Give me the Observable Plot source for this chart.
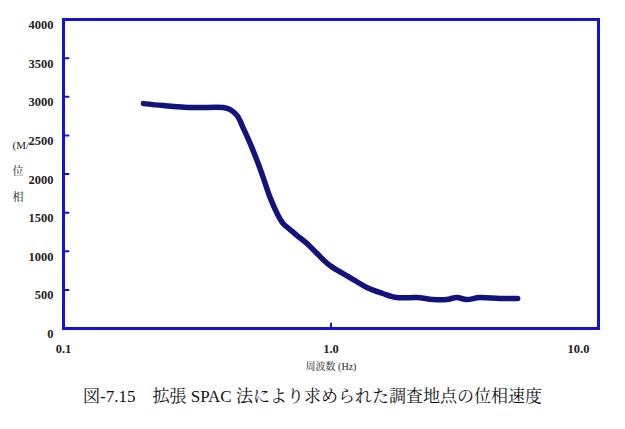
<!DOCTYPE html>
<html>
<head>
<meta charset="utf-8">
<script src="https://cdn.jsdelivr.net/npm/d3@7"></script>
<script src="https://cdn.jsdelivr.net/npm/@observablehq/plot@0.6"></script>
<style>
  body { margin: 0; background: #fff; width: 625px; height: 429px; overflow: hidden; }
  #caption { font-family: "Liberation Serif", "Noto Serif CJK JP", "Noto Sans CJK JP", serif; font-size: 17px; color: #111; text-align: center; height: 34px; line-height: 34px; }
</style>
</head>
<body>
<div id="chart"></div>
<div id="caption"></div>
<script>
// Data
const freq = [0.199, 0.236, 0.305, 0.395, 0.420, 0.446, 0.469, 0.499, 0.529, 0.558, 0.592, 0.629, 0.662, 0.703, 0.747, 0.813, 0.887, 0.991, 1.178, 1.362, 1.563, 1.763, 2.094, 2.403, 2.709, 2.953, 3.216, 3.597, 4.272, 4.987];
const velocity = [2911, 2886, 2860, 2860, 2834, 2756, 2601, 2394, 2174, 1954, 1695, 1488, 1359, 1281, 1203, 1100, 970, 815, 660, 531, 453, 401, 401, 375, 375, 401, 375, 401, 388, 388];
const yTicks = [0, 500, 1000, 1500, 2000, 2500, 3000, 3500, 4000];
const yInnerTicks = [500, 1000, 1500, 2000, 2500, 3000, 3500];
const xTicks = [0.1, 1, 10];
const xTickLabels = ["0.1", "1.0", "10.0"];
const xInnerTicks = [1];
const xLabel = "周波数 (Hz)";
const yLabel = "(M/\n位\n相";
const captionText = "図-7.15　拡張 SPAC 法により求められた調査地点の位相速度";

const rows = freq.map((f, i) => ({f, v: velocity[i]}));
const tickShape = {draw(ctx, l) { ctx.moveTo(0, 0); ctx.lineTo(0, -l); }};
const serif = "'Liberation Serif', 'Noto Serif CJK JP', 'Noto Sans CJK JP', serif";

const plot = Plot.plot({
  width: 625,
  height: 380,
  marginTop: 19,
  marginBottom: 52,
  marginLeft: 63,
  marginRight: 27,
  style: {background: "#fff", fontFamily: serif},
  x: {type: "log", domain: [0.1, 10], axis: null},
  y: {domain: [0, 4000], axis: null},
  marks: [
    Plot.line(rows, {x: "f", y: "v", stroke: "#13137e", strokeWidth: 5.5, curve: "catmull-rom", strokeLinecap: "round"}),
    Plot.vector(yInnerTicks, {x: () => 0.1, y: d => d, length: 5, rotate: 90, anchor: "start", shape: tickShape, stroke: "#1414d0", strokeWidth: 2}),
    Plot.vector(xInnerTicks, {x: d => d, y: () => 0, length: 5, rotate: 0, anchor: "start", shape: tickShape, stroke: "#1414d0", strokeWidth: 2}),
    Plot.frame({stroke: "#1414d0", strokeWidth: 3}),
    Plot.axisY({ticks: yTicks, label: null, tickSize: 0, tickPadding: 10, dy: 5.5, fontSize: 12.5, fill: "#222", fontFamily: serif, fontWeight: "bold", tickFormat: d => String(d)}),
    Plot.text(xTicks.slice(0, 2), {x: d => d, text: (d, i) => xTickLabels[i], frameAnchor: "bottom", dy: 24, fontSize: 12.5, fill: "#222", fontFamily: serif, fontWeight: "bold"}),
    Plot.text(xTicks.slice(2), {x: d => d, text: () => xTickLabels[2], frameAnchor: "bottom", dy: 24, dx: -20, fontSize: 12.5, fill: "#222", fontFamily: serif, fontWeight: "bold"}),
    Plot.text([xLabel], {frameAnchor: "bottom", dy: 41, text: d => d, fontSize: 10, fill: "#222", fontFamily: serif}),
    Plot.text([yLabel], {frameAnchor: "left", dx: -51, dy: -7.5, textAnchor: "start", lineHeight: 2.35, text: d => d, fontSize: 11, fill: "#222", fontFamily: serif})
  ]
});
document.getElementById("chart").appendChild(plot);
document.getElementById("caption").textContent = captionText;
</script>
</body>
</html>
